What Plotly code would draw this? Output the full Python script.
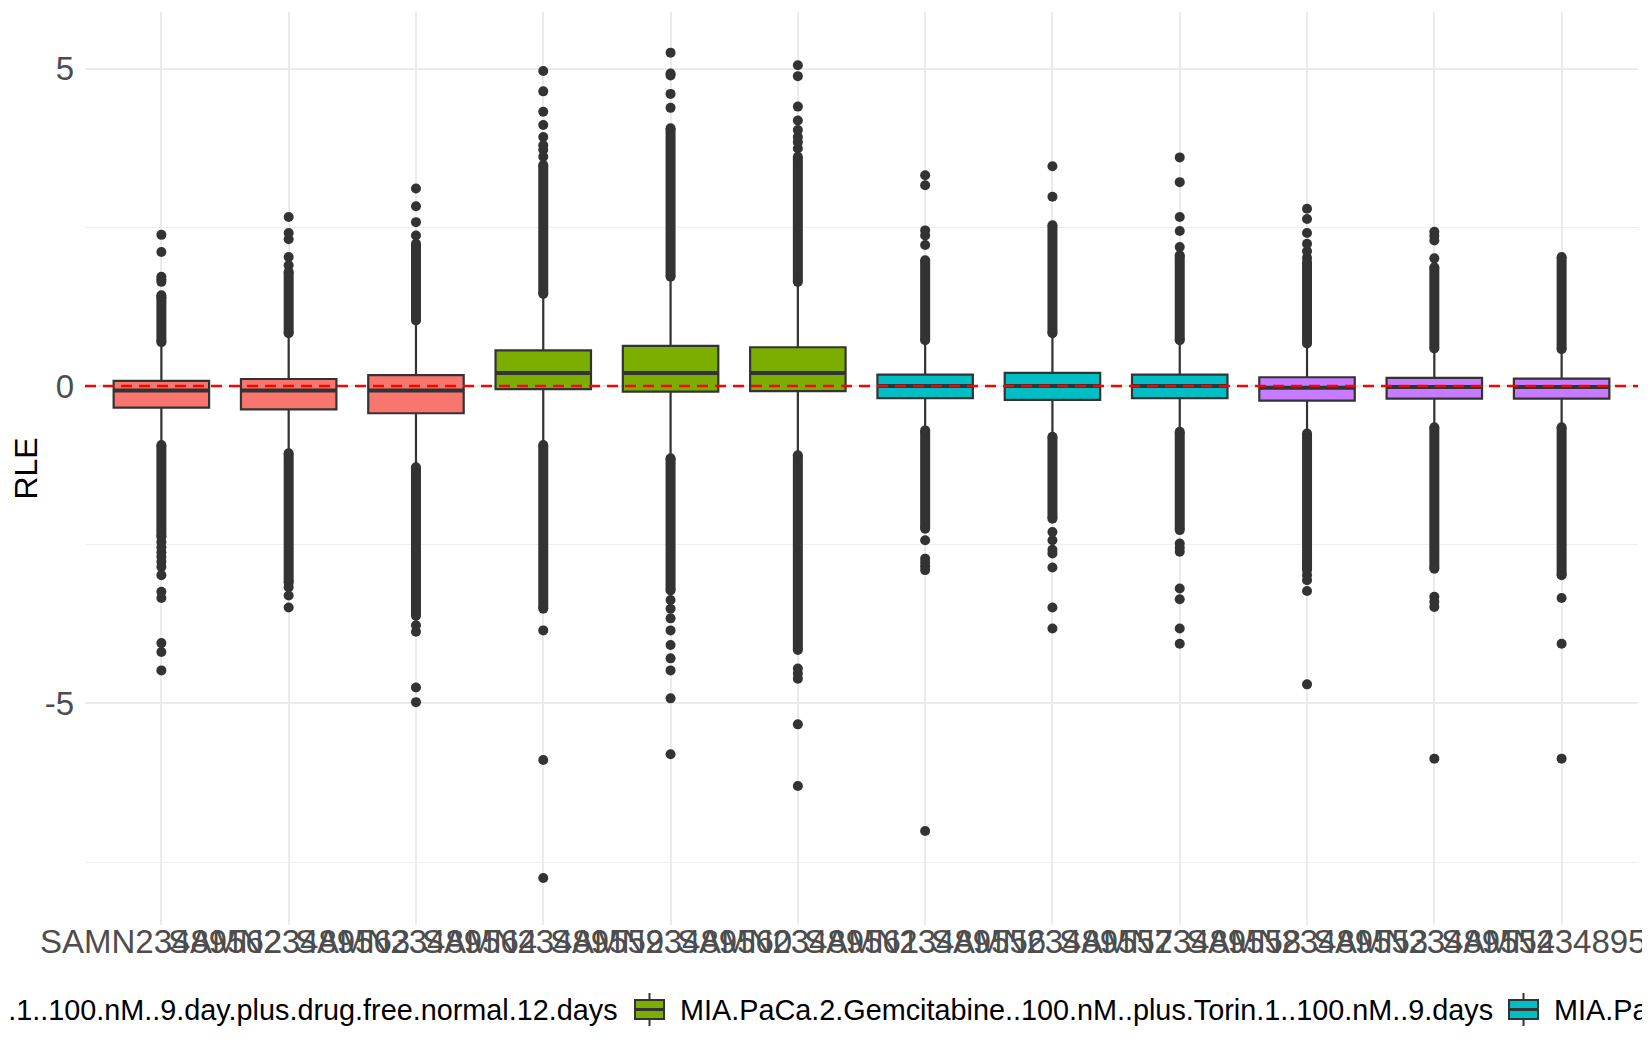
import plotly.graph_objects as go

# ---------------- data ----------------
samples = ["SAMN23489562", "SAMN23489563", "SAMN23489564",
           "SAMN23489559", "SAMN23489560", "SAMN23489561",
           "SAMN23489556", "SAMN23489557", "SAMN23489558",
           "SAMN23489553", "SAMN23489554", "SAMN23489555"]
group_of_sample = [0, 0, 0, 1, 1, 1, 2, 2, 2, 3, 3, 3]
group_names = [
    "MIA.PaCa.2.Gemcitabine..100.nM..plus.Torin.1..100.nM..9.day.plus.drug.free.normal.12.days",
    "MIA.PaCa.2.Gemcitabine..100.nM..plus.Torin.1..100.nM..9.days",
    "MIA.PaCa.2.Torin.1..100.nM..9.days",
    "MIA.PaCa.2.Untreated",
]
group_colors = ["#F8766D", "#7CAE00", "#00BFC4", "#C77CFF"]

q1 = [-0.34, -0.37, -0.43, -0.05, -0.09, -0.08, -0.19, -0.22, -0.19, -0.23, -0.20, -0.20]
median = [-0.07, -0.07, -0.07, 0.205, 0.205, 0.205, 0.0, 0.0, 0.0, -0.03, -0.015, -0.015]
q3 = [0.08, 0.11, 0.17, 0.56, 0.63, 0.61, 0.18, 0.205, 0.18, 0.137, 0.126, 0.116]
lower_fence = [-0.90, -1.03, -1.25, -0.90, -1.11, -1.06, -0.67, -0.77, -0.69, -0.72, -0.62, -0.62]
upper_fence = [0.66, 0.80, 1.00, 1.42, 1.69, 1.61, 0.69, 0.80, 0.69, 0.64, 0.56, 0.55]

# dense runs of outliers (start, end) above and below each box
upper_dense = [(0.69, 1.40), (0.83, 1.80), (1.03, 2.24), (1.45, 3.48), (1.72, 4.06), (1.64, 3.61),
               (0.72, 1.98), (0.83, 2.53), (0.72, 2.06), (0.67, 1.95), (0.59, 1.87), (0.58, 2.03)]
lower_dense = [(-0.93, -2.38), (-1.06, -3.10), (-1.28, -3.62), (-0.93, -3.51), (-1.14, -3.22), (-1.09, -4.16),
               (-0.70, -2.25), (-0.80, -2.09), (-0.72, -2.27), (-0.75, -2.90), (-0.65, -2.88), (-0.65, -2.98)]
# isolated outliers
sparse_outliers = [
    [1.43, 1.64, 1.68, 1.72, 2.11, 2.38, -2.46, -2.54, -2.62, -2.69, -2.77, -2.85, -2.98, -3.24, -3.34, -4.05, -4.19, -4.48],
    [1.90, 2.03, 2.31, 2.41, 2.66, -3.17, -3.30, -3.49],
    [2.37, 2.58, 2.83, 3.11, -3.77, -3.87, -4.75, -4.98],
    [3.61, 3.72, 3.79, 3.92, 4.11, 4.32, 4.64, 4.96, -3.85, -5.89, -7.75],
    [4.38, 4.60, 4.89, 4.92, 5.25, -3.37, -3.51, -3.66, -3.85, -4.08, -4.29, -4.48, -4.92, -5.80],
    [3.74, 3.84, 3.92, 4.03, 4.18, 4.40, 4.88, 5.05, -4.45, -4.53, -4.61, -5.33, -6.30],
    [2.22, 2.37, 2.45, 3.16, 3.32, -2.43, -2.72, -2.78, -2.84, -2.90, -7.01],
    [2.98, 3.46, -2.30, -2.43, -2.58, -2.64, -2.86, -3.49, -3.82],
    [2.19, 2.44, 2.66, 3.21, 3.60, -2.48, -2.55, -2.61, -3.19, -3.36, -3.82, -4.06],
    [2.02, 2.12, 2.24, 2.41, 2.63, 2.79, -2.98, -3.06, -3.23, -4.70],
    [2.01, 2.29, 2.36, 2.43, -3.32, -3.40, -3.48, -5.87],
    [-3.34, -4.06, -5.87],
]
y_tick_vals = [-5, 0, 5]
y_tick_text = ["-5", "0", "5"]

# ---------------- layout constants ----------------
# the page body keeps its default 8px margin, so the figure is 8px smaller
# and every page-pixel position below is shifted by OFF.
OFF = 8
W, H = 1650 - OFF, 1050 - OFF
ML, MR, MT, MB = 85 - OFF, 12, 12 - OFF, 125
PW, PH = W - ML - MR, H - MT - MB
FONT = "Liberation Sans, Arial, Helvetica, sans-serif"
DARK = "#333333"
BOX_W = 0.75

fig = go.Figure()
positions = list(range(1, len(samples) + 1))

for i, pos in enumerate(positions):
    col = group_colors[group_of_sample[i]]
    fig.add_trace(go.Box(
        x=[pos], q1=[q1[i]], median=[median[i]], q3=[q3[i]],
        lowerfence=[lower_fence[i]], upperfence=[upper_fence[i]],
        fillcolor=col, line=dict(color=DARK, width=2.2), whiskerwidth=0,
        width=BOX_W, boxpoints=False, showlegend=False, hoverinfo="skip",
    ))

# thicker median bars
mx, my = [], []
for i, pos in enumerate(positions):
    mx += [pos - BOX_W / 2, pos + BOX_W / 2, None]
    my += [median[i], median[i], None]
fig.add_trace(go.Scatter(x=mx, y=my, mode="lines", line=dict(color=DARK, width=4),
                         showlegend=False, hoverinfo="skip"))

# dense outlier runs
bx, by = [], []
for i, pos in enumerate(positions):
    for a, b in (upper_dense[i], lower_dense[i]):
        bx += [pos, pos, None]
        by += [a, b, None]
fig.add_trace(go.Scatter(x=bx, y=by, mode="lines+markers",
                         line=dict(color=DARK, width=10),
                         marker=dict(color=DARK, size=10),
                         showlegend=False, hoverinfo="skip"))

# isolated outliers
ox, oy = [], []
for i, pos in enumerate(positions):
    for v in sparse_outliers[i]:
        ox.append(pos)
        oy.append(v)
fig.add_trace(go.Scatter(x=ox, y=oy, mode="markers", marker=dict(color=DARK, size=10),
                         showlegend=False, hoverinfo="skip"))

# red dashed reference line
fig.add_shape(type="line", xref="paper", x0=0, x1=1, yref="y", y0=0, y1=0,
              line=dict(color="#FF0000", width=2.5, dash="11px,7px"), layer="above")


def xp(px):
    """page pixel x -> paper coordinate"""
    return (px - OFF - ML) / PW


def yp(py):
    """page pixel y -> paper coordinate"""
    return (MT + PH - (py - OFF)) / PH


# x tick labels drawn as annotations so they overlap / clip like the original
for i, pos in enumerate(positions):
    fig.add_annotation(text=samples[i], xref="x", yref="paper", x=pos, y=yp(941),
                       xanchor="center", yanchor="middle", showarrow=False,
                       font=dict(family=FONT, size=33, color="#4D4D4D"))

# ---------------- legend (drawn manually, overflows the figure like the original) ----------------
LEG_FS = 28.8
key_w = 29
key_left = [-612, 635, 1509, 2600]
text_x = [(620, "right"), (678, "left"), (1552, "left"), (2652, "left")]
for g in range(len(group_names)):
    kl = key_left[g]
    kc = kl + key_w / 2
    fig.add_shape(type="line", xref="paper", yref="paper", x0=xp(kc), x1=xp(kc),
                  y0=yp(993), y1=yp(1026), line=dict(color=DARK, width=2))
    fig.add_shape(type="rect", xref="paper", yref="paper", x0=xp(kl), x1=xp(kl + key_w),
                  y0=yp(1000), y1=yp(1019), fillcolor=group_colors[g],
                  line=dict(color=DARK, width=2))
    fig.add_shape(type="line", xref="paper", yref="paper", x0=xp(kl), x1=xp(kl + key_w),
                  y0=yp(1009.5), y1=yp(1009.5), line=dict(color=DARK, width=3))
    tx, anchor = text_x[g]
    fig.add_annotation(text=group_names[g], xref="paper", yref="paper",
                       x=xp(tx), y=yp(1010), xanchor=anchor, yanchor="middle",
                       showarrow=False, font=dict(family=FONT, size=LEG_FS, color="#000000"))

fig.update_layout(
    width=W, height=H,
    margin=dict(l=ML, r=MR, t=MT, b=MB, autoexpand=False),
    paper_bgcolor="white", plot_bgcolor="white",
    boxmode="overlay",
    showlegend=False,
    font=dict(family=FONT),
)
fig.update_xaxes(
    range=[0.4, len(samples) + 0.6], tickmode="array", tickvals=positions,
    showticklabels=False,
    showgrid=True, gridcolor="#EBEBEB", gridwidth=1.5, zeroline=False,
    showline=False, ticks="",
)
fig.update_yaxes(
    range=[-8.49, 5.89], tickmode="array", tickvals=y_tick_vals, ticktext=y_tick_text,
    showgrid=True, gridcolor="#EBEBEB", gridwidth=1.5, zeroline=False, showline=False,
    ticks="", ticklabelstandoff=10,
    minor=dict(tickmode="array", tickvals=[-7.5, -2.5, 2.5], showgrid=True,
               gridcolor="#EFEFEF", gridwidth=1.2, ticks=""),
    tickfont=dict(family=FONT, size=33, color="#4D4D4D"),
    title=dict(text="RLE", font=dict(family=FONT, size=32, color="#000000"), standoff=8),
)

fig.write_html("out.html")
